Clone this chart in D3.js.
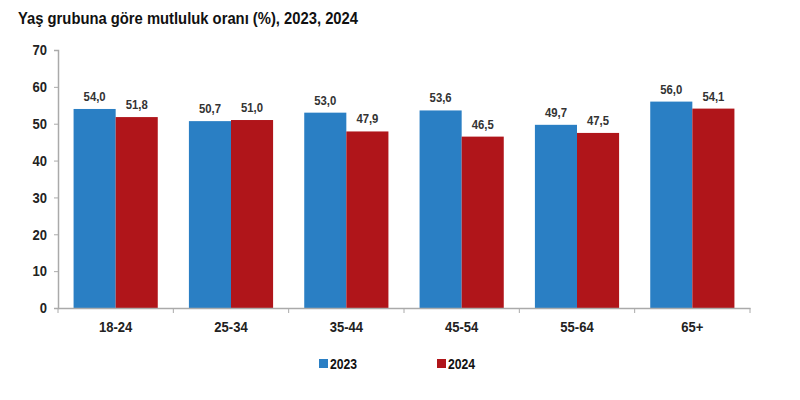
<!DOCTYPE html>
<html>
<head>
<meta charset="utf-8">
<script src="https://cdn.jsdelivr.net/npm/d3@7"></script>
<style>
  body { margin: 0; background: #fff; }
  text { font-family: "Liberation Sans", Arial, sans-serif; }
</style>
</head>
<body>
<script>
const categories = ['18-24', '25-34', '35-44', '45-54', '55-64', '65+'];
const years = ['2023', '2024'];
const values2023 = [54.0, 50.7, 53.0, 53.6, 49.7, 56.0];
const values2024 = [51.8, 51.0, 47.9, 46.5, 47.5, 54.1];
const yTicks = [0, 10, 20, 30, 40, 50, 60, 70];
const colors = ['#2a7fc4', '#b0151a'];

const width = 800, height = 400;
const plotLeft = 58, plotRight = 750, plotTop = 50, plotBottom = 308;

const svg = d3.select('body')
    .append('svg')
    .attr('width', width)
    .attr('height', height);

// narrow look: squeeze text horizontally around its anchor
function narrow(sel, k) {
    sel.each(function() {
        const t = d3.select(this);
        const x = +t.attr('x') || 0, yy = +t.attr('y') || 0;
        t.attr('transform', 'translate(' + x + ',' + yy + ') scale(' + k + ',1) translate(' + (-x) + ',' + (-yy) + ')');
    });
}

svg.append('text')
    .attr('x', 18)
    .attr('y', 24)
    .attr('font-size', 17)
    .attr('font-weight', 'bold')
    .attr('fill', '#111')
    .text('Yaş grubuna göre mutluluk oranı (%), 2023, 2024')
    .call(narrow, 0.87);

const x0 = d3.scaleBand()
    .domain(categories)
    .range([plotLeft, plotRight]);

const x1 = d3.scaleBand()
    .domain(years)
    .range([0, x0.bandwidth()])
    .paddingOuter(0.37);

const y = d3.scaleLinear()
    .domain([0, 70])
    .range([plotBottom, plotTop]);

const rows = categories.map(function(c, i) {
    return { cat: c, vals: [values2023[i], values2024[i]] };
});

const yAxis = d3.axisLeft(y)
    .tickValues(yTicks)
    .tickSize(4)
    .tickPadding(7);

const gy = svg.append('g')
    .attr('transform', 'translate(' + plotLeft + ',0)')
    .call(yAxis);
gy.select('.domain').attr('stroke', '#aaa').attr('stroke-width', 1.5);
gy.selectAll('.tick line').attr('stroke', '#aaa');
gy.selectAll('.tick text')
    .attr('font-size', 15)
    .attr('font-weight', 'bold')
    .attr('fill', '#222')
    .call(narrow, 0.87);

// bars
const groups = svg.selectAll('g.cat')
    .data(rows)
    .enter()
    .append('g')
    .attr('class', 'cat')
    .attr('transform', function(d) { return 'translate(' + x0(d.cat) + ',0)'; });

groups.selectAll('rect')
    .data(function(d) { return d.vals.map(function(v, j) { return { year: years[j], v: v, j: j }; }); })
    .enter()
    .append('rect')
    .attr('x', function(d) { return x1(d.year); })
    .attr('y', function(d) { return y(d.v); })
    .attr('width', x1.bandwidth())
    .attr('height', function(d) { return plotBottom - y(d.v); })
    .attr('fill', function(d) { return colors[d.j]; });

groups.selectAll('text.val')
    .data(function(d) { return d.vals.map(function(v, j) { return { year: years[j], v: v }; }); })
    .enter()
    .append('text')
    .attr('class', 'val')
    .attr('x', function(d) { return x1(d.year) + x1.bandwidth() / 2; })
    .attr('y', function(d) { return y(d.v) - 8; })
    .attr('text-anchor', 'middle')
    .attr('font-size', 13)
    .attr('font-weight', 'bold')
    .attr('fill', '#333')
    .text(function(d) { return d.v.toFixed(1).replace('.', ','); })
    .call(narrow, 0.87);

const xAxis = d3.axisBottom(x0)
    .tickSize(0)
    .tickPadding(13);

const gx = svg.append('g')
    .attr('transform', 'translate(0,' + plotBottom + ')')
    .call(xAxis);
gx.select('.domain').attr('stroke', '#aaa').attr('stroke-width', 1.5);
gx.selectAll('.tick text')
    .attr('font-size', 15)
    .attr('font-weight', 'bold')
    .attr('fill', '#222')
    .call(narrow, 0.87);

// category separators
gx.selectAll('line.sep')
    .data(categories.concat(['end']))
    .enter()
    .append('line')
    .attr('class', 'sep')
    .attr('x1', function(d, i) { return plotLeft + i * x0.step(); })
    .attr('x2', function(d, i) { return plotLeft + i * x0.step(); })
    .attr('y1', 0)
    .attr('y2', 5)
    .attr('stroke', '#aaa');

// legend
const legendX = [319, 437];
const legend = svg.selectAll('g.legend')
    .data(years)
    .enter()
    .append('g')
    .attr('class', 'legend')
    .attr('transform', function(d, i) { return 'translate(' + legendX[i] + ',364)'; });

legend.append('rect')
    .attr('x', 0)
    .attr('y', -5)
    .attr('width', 9)
    .attr('height', 9)
    .attr('fill', function(d, i) { return colors[i]; });

legend.append('text')
    .attr('x', 11)
    .attr('y', 5)
    .attr('font-size', 14)
    .attr('font-weight', 'bold')
    .attr('fill', '#111')
    .text(function(d) { return d; })
    .call(narrow, 0.87);
</script>
</body>
</html>
